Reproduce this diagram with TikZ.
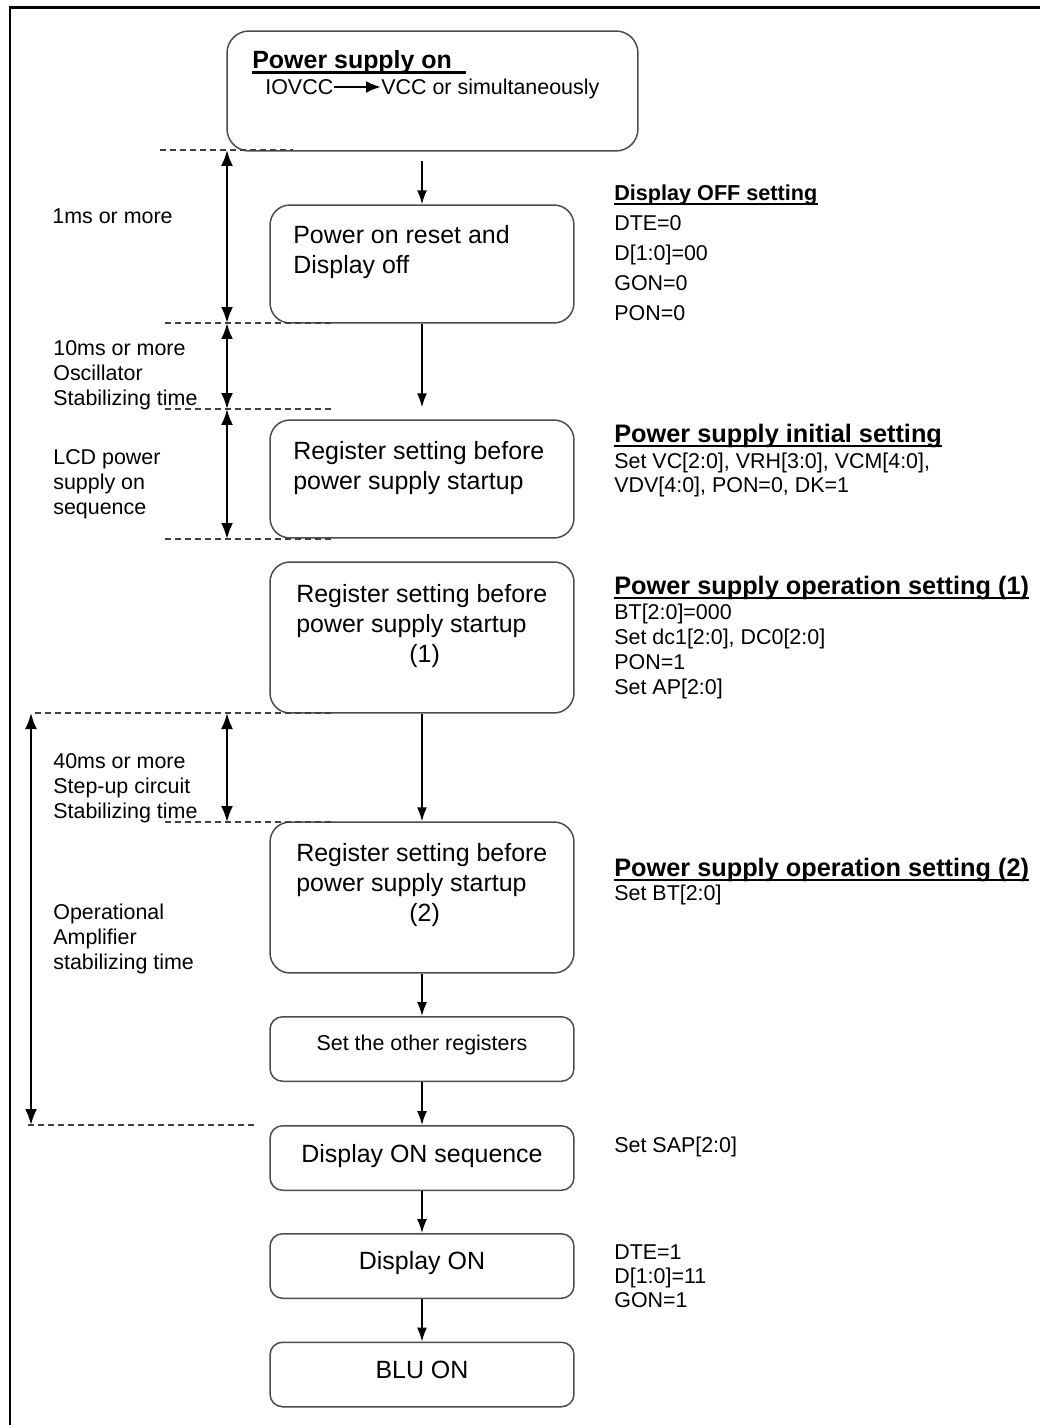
\documentclass[tikz,border=0pt]{standalone}
\usepackage{fontspec}
\setmainfont{Liberation Sans}
\usetikzlibrary{arrows.meta}
\colorlet{BoxLine}{black!70}
\colorlet{GuideLine}{black!75}
\tikzset{
	box/.style = {
		draw          = BoxLine,
		line width    = 0.85pt,
		rounded corners = 0.4cm,
		minimum width = 6.08cm,
		inner sep     = 0pt,
	},
	smallbox/.style = {
		box,
		rounded corners = 0.25cm,
		minimum height  = 1.29cm,
	},
	flow/.style = {
		-{Latex[length = 0.28cm, width = 0.2cm]},
		line width = 0.85pt,
	},
	span/.style = {
		{Latex[length = 0.32cm, width = 0.24cm]}-{Latex[length = 0.32cm, width = 0.24cm]},
		line width = 1.3pt,
	},
	guide/.style = {
		draw         = GuideLine,
		line width   = 0.75pt,
		dash pattern = on 3.4pt off 2.3pt,
	},
	boxtext/.style = {
		font      = \fontsize{14.2}{17.1}\selectfont,
		inner sep = 0pt,
		align     = left,
	},
	note/.style = {
		font      = \fontsize{12.2}{14.2}\selectfont,
		inner sep = 0pt,
		align     = left,
	},
	heading/.style = {
		font      = \fontsize{14.4}{17.1}\selectfont\bfseries,
		inner sep = 0pt,
		anchor    = base west,
	},
}
\begin{document}
\begin{tikzpicture}[x = 0.02cm, y = -0.02cm]
	\useasboundingbox (0,0) rectangle (1040,1425);

	% frame
	\draw[line width = 1.7pt] (1040,8) -- (10,8) -- (10,1425);

	% flow boxes
	\node[box, minimum width = 8.22cm, minimum height = 2.4cm, rounded corners = 0.44cm] (supply) at (432.5,91) {};
	\node[box, minimum height = 2.36cm] (reset)   at (422,264)   {};
	\node[box, minimum height = 2.36cm] (initial) at (422,479)   {};
	\node[box, minimum height = 3.02cm] (opone)   at (422,637.5) {};
	\node[box, minimum height = 3.02cm] (optwo)   at (422,897.5) {};
	\node[smallbox] (other)  at (422,1049)   {};
	\node[smallbox] (onseq)  at (422,1158)   {};
	\node[smallbox] (dispon) at (422,1266)   {};
	\node[smallbox] (blu)    at (422,1374.5) {};

	% box texts
	\node[heading, font = \fontsize{14.2}{17.1}\selectfont\bfseries] (supplyhead) at (252,69) {Power supply on};
	\draw[line width = 1.5pt] ([yshift = 1pt]supplyhead.south west) -- ([xshift = 0.28cm, yshift = 1pt]supplyhead.south east);
	\node[note, anchor = west] (iovcc) at (265,87) {IOVCC};
	\node[note, anchor = base west] (vcc) at (381,94.7) {VCC or simultaneously};
	\draw[-{Latex[length = 0.3cm, width = 0.24cm]}, line width = 1.4pt] (iovcc.east) -- (iovcc.east -| vcc.west);

	\node[boxtext, anchor = north west] (resettext)   at (293,225) {Power on reset and\\Display off};
	\node[boxtext, anchor = north west] (initialtext) at (293,441) {Register setting before\\power supply startup};
	\node[boxtext, anchor = north west] (oponetext)   at (296,584) {Register setting before\\power supply startup\\\hspace*{2.26cm}(1)};
	\node[boxtext, anchor = north west] (optwotext)   at (296,843) {Register setting before\\power supply startup\\\hspace*{2.26cm}(2)};
	\node[note,    anchor = base] (othertext)  at (422,1050) {Set the other registers};
	\node[boxtext, anchor = base] (onseqtext)  at (422,1162) {Display ON sequence};
	\node[boxtext, anchor = base] (dispontext) at (422,1269) {Display ON};
	\node[boxtext, anchor = base] (blutext)    at (422,1378) {BLU ON};

	% flow arrows
	\draw[flow, shorten < = 0.18cm] (supply.south -| reset.north) -- (reset.north);
	\draw[flow, shorten > = 0.24cm] (reset) -- (initial);
	\draw[flow] (opone)  -- (optwo);
	\draw[flow] (optwo)  -- (other);
	\draw[flow] (other)  -- (onseq);
	\draw[flow] (onseq)  -- (dispon);
	\draw[flow] (dispon) -- (blu);

	% timing marks
	\coordinate (tzero)  at (227,150);
	\coordinate (tone)   at (227,323);
	\coordinate (ttwo)   at (227,409);
	\coordinate (tthree) at (227,539);
	\coordinate (tfour)  at (227,713);
	\coordinate (tfive)  at (227,822);
	\coordinate (amptop) at (31,713);
	\coordinate (ampbot) at (31,1125);

	\foreach \y/\a/\b in {150/160/293, 323/165/335, 409/165/335, 539/165/335, 713/35/335, 822/165/335, 1125/28/255}
		\draw[guide] (\a,\y) -- (\b,\y);

	\draw[span] (tzero) -- (tone);
	\draw[span] (tone)  -- (ttwo);
	\draw[span] (ttwo)  -- (tthree);
	\draw[span] (tfour) -- (tfive);
	\draw[span] (amptop) -- (ampbot);

	% timing labels
	\node[note, anchor = base west]  (onems)   at (52,224)  {1ms or more};
	\node[note, anchor = north west] (tenms)   at (53,340)  {10ms or more\\Oscillator\\Stabilizing time};
	\node[note, anchor = north west] (lcdseq)  at (53,449)  {LCD power\\supply on\\sequence};
	\node[note, anchor = north west] (fortyms) at (53,753)  {40ms or more\\Step-up circuit\\Stabilizing time};
	\node[note, anchor = north west] (opamp)   at (53,904)  {Operational\\Amplifier\\stabilizing time};

	% register settings
	\node[heading, font = \fontsize{12.3}{14.2}\selectfont\bfseries] (offhead) at (614,200.7) {Display OFF setting};
	\node[note, anchor = north west, font = \fontsize{12.2}{17.1}\selectfont] (offregs) at (614,215) {DTE=0\\D[1:0]=00\\GON=0\\PON=0};

	\node[heading] (inithead) at (614,442) {Power supply initial setting};
	\node[note, anchor = north west, font = \fontsize{12.2}{13.7}\selectfont] (initregs) at (614,453) {Set VC[2:0], VRH[3:0], VCM[4:0],\\VDV[4:0], PON=0, DK=1};

	\node[heading] (oponehead) at (614,594) {Power supply operation setting (1)};
	\node[note, anchor = north west] (oneregs) at (614,604) {BT[2:0]=000\\Set dc1[2:0], DC0[2:0]\\PON=1\\Set AP[2:0]};

	\node[heading] (optwohead) at (614,876) {Power supply operation setting (2)};
	\node[note, anchor = base west] (tworegs) at (614,900.7) {Set BT[2:0]};

	\foreach \h in {offhead, inithead, oponehead, optwohead}
		\draw[line width = 1.5pt] ([yshift = 1pt]\h.south west) -- ([yshift = 1pt]\h.south east);

	\node[note, anchor = base west] (sapregs) at (614,1152) {Set SAP[2:0]};
	\node[note, anchor = north west, font = \fontsize{12.2}{13.9}\selectfont] (onregs) at (614,1244) {DTE=1\\D[1:0]=11\\GON=1};
\end{tikzpicture}
\end{document}
